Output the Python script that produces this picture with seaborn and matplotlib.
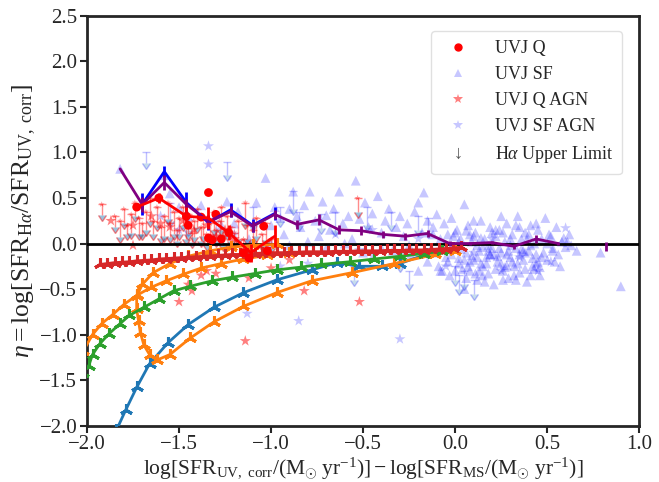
import numpy as np
import pandas as pd
import matplotlib
matplotlib.use("Agg")
import matplotlib.pyplot as plt
from matplotlib.lines import Line2D
import seaborn as sns

# ---------------- data ----------------
# UVJ SF (triangles)
sf_x = [-1.82,-1.58,-1.55,-1.50,-1.45,-1.38,-1.30,-1.27,-1.24,-1.20,-1.18,-1.12,-1.08,-1.03,-1.00,-0.98,-0.95,-0.93,-0.90,-0.88,
        -0.86,-0.84,-0.82,-0.79,-0.76,-0.74,-0.72,-0.70,-0.68,-0.66,-0.63,-0.61,-0.58,-0.56,-0.54,-0.52,-0.49,-0.47,-0.45,-0.42,
        -0.40,-0.38,-0.36,-0.34,-0.32,-0.30,-0.28,-0.26,-0.24,-0.22,-0.20,-0.18,-0.17,-0.15,-0.13,-0.12,-0.10,-0.09,-0.08,-0.06,
        -0.05,-0.04,-0.03,-0.02,0.00,0.01,0.02,0.03,0.05,0.05,0.06,0.07,0.08,0.09,0.10,0.11,0.12,0.13,0.14,0.15,
        0.16,0.17,0.18,0.19,0.20,0.21,0.22,0.23,0.24,0.25,0.26,0.27,0.28,0.29,0.30,0.31,0.32,0.33,0.34,0.35,
        0.36,0.37,0.38,0.39,0.40,0.41,0.42,0.43,0.44,0.45,0.46,0.47,0.49,0.50,0.52,0.53,0.55,0.57,0.58,0.60,
        0.62,0.63,0.66,0.79,0.90,-0.02,0.04,0.08,0.12,0.15,0.18,0.22,0.25,0.28,0.32,0.35,0.38,0.41,0.44,0.47,
        0.10,0.20,0.30,0.40,-0.06,0.02,0.06,0.16,0.26,0.34,0.24,0.14,-0.10,-0.15,-0.20,-0.25,-0.30,-0.40,-0.45,-0.50,
        -0.60,-0.70,-0.80,-0.90,-1.00,0.00,0.07,0.13,0.19,0.27,0.33,0.43,0.48,0.54,0.05,0.18,0.30,0.37,-0.08,0.11,
        -0.01,0.03,0.09,0.14,0.17,0.21,0.26,0.31,0.36,0.39,0.42,0.46,0.51,0.56,0.61,-0.04,0.06,0.12,0.23,0.29,
        0.35,0.41,0.45,0.50,0.02,0.08,0.15,0.22,0.28,0.33,-0.12,-0.07,0.00,0.10,0.19,0.25,0.38,0.44,0.53,0.59]
sf_y = [0.82,0.75,0.55,0.40,0.30,0.42,0.32,0.20,0.46,0.22,0.35,0.05,0.45,0.72,0.20,0.40,0.28,0.10,0.38,0.57,
        0.30,0.18,0.42,0.57,0.25,0.08,0.46,0.31,0.15,0.38,0.57,0.22,0.30,0.05,0.69,0.27,0.45,0.18,0.33,0.52,
        0.12,0.25,0.38,-0.08,0.18,0.30,0.08,0.22,-0.12,0.35,0.45,0.12,0.56,0.25,-0.05,0.18,0.32,-0.25,0.05,0.22,
        -0.15,0.10,-0.35,0.28,-0.05,0.15,-0.22,0.05,0.43,-0.50,-0.10,0.20,-0.30,0.02,-0.18,0.12,-0.40,-0.08,0.25,-0.25,
        0.05,-0.15,-0.33,0.18,-0.05,-0.45,0.08,-0.20,0.15,-0.10,-0.30,0.02,0.22,-0.38,-0.15,0.10,-0.25,-0.05,0.30,-0.32,
        0.05,-0.18,0.12,-0.42,-0.08,0.20,-0.25,0.00,-0.12,0.15,-0.35,0.05,0.28,-0.18,0.08,-0.05,0.18,-0.25,0.02,-0.04,
        0.10,-0.02,-0.08,-0.10,-0.47,-0.12,-0.28,-0.20,-0.15,-0.35,-0.02,-0.28,-0.22,-0.12,-0.35,-0.12,-0.28,-0.35,-0.22,-0.15,
        0.08,0.12,0.05,0.10,-0.02,0.02,-0.38,-0.42,-0.40,-0.22,-0.05,-0.22,-0.10,-0.20,-0.30,-0.02,-0.20,-0.05,-0.15,-0.10,
        0.00,-0.05,0.02,-0.02,0.00,-0.30,-0.25,-0.30,-0.12,-0.26,-0.40,-0.28,-0.10,-0.20,-0.18,-0.08,-0.02,-0.08,-0.30,-0.33,
        0.08,-0.06,-0.13,0.06,-0.22,-0.12,0.12,-0.20,-0.06,0.04,-0.16,-0.26,0.10,-0.12,0.02,-0.20,0.14,-0.02,-0.14,-0.08,
        0.18,-0.02,-0.20,0.00,-0.16,0.10,-0.04,0.15,-0.24,0.20,0.10,-0.30,0.12,0.25,-0.12,0.30,-0.10,0.22,-0.08,0.06]

# UVJ SF AGN (stars)
sfagn_x = [-1.34,-1.34,-0.85,-0.30,-1.13,-0.52,0.60,-0.95,-0.80,-0.45,-0.20,-0.05,0.10,0.20,0.35,0.45,-1.60,-1.50,-1.20,-0.65,0.25,0.52]
sfagn_y = [1.07,0.87,-0.85,-1.05,-0.77,-0.07,0.17,-0.25,-0.22,0.15,0.05,-0.25,-0.10,0.05,-0.15,-0.30,0.30,0.15,0.10,0.10,-0.30,-0.20]

# UVJ Q (circles)
q_x = [-1.73,-1.61,-1.34,-1.30,-1.46,-1.45,-1.34,-1.32,-1.27,-1.23,-1.15,-1.12,-1.04,-1.02,-1.38]
q_y = [0.40,0.50,0.56,0.32,0.30,0.20,0.06,0.04,0.05,0.12,-0.10,-0.16,0.19,-0.08,0.29]

# UVJ Q AGN (stars)
qagn_x = [-1.87,-1.75,-1.65,-1.60,-1.55,-1.48,-1.42,-1.35,-1.30,-1.25,-1.20,-1.45,-1.50,-1.43,-1.38,-1.35,-1.14,-0.52,-0.82,-1.00,-1.12,-1.75,-1.30,-0.90]
qagn_y = [0.25,0.20,0.30,0.22,0.18,0.25,0.15,0.20,0.08,0.15,0.05,-0.45,-0.64,-0.52,-0.35,-0.30,-1.07,-0.64,-0.52,-0.27,-0.38,-0.02,-0.33,-0.18]

# H-alpha upper limits (Q, red)
ulq_x = [-1.92,-1.85,-1.82,-1.80,-1.78,-1.76,-1.74,-1.72,-1.70,-1.68,-1.66,-1.64,-1.62,-1.60,-1.58,-1.56,-1.55,-1.53,-1.51,-1.50,
         -1.48,-1.46,-1.45,-1.43,-1.42,-1.40,-1.38,-1.37,-1.35,-1.33,-1.31,-1.30,-1.28,-1.26,-1.24,-1.22,-1.20,-1.18,-1.15,-1.13,
         -1.10,-1.08,-1.05,-1.03,-1.00,-1.27,-1.14,-0.53]
ulq_y = [0.43,0.30,0.25,0.38,0.20,0.32,0.45,0.28,0.22,0.35,0.50,0.25,0.40,0.18,0.30,0.45,0.22,0.35,0.15,0.28,
         0.40,0.20,0.32,0.12,0.25,0.38,0.18,0.30,0.10,0.22,0.35,0.15,0.25,0.08,0.30,0.18,0.12,0.25,0.05,0.20,
         0.15,0.28,0.10,0.22,0.05,0.40,0.45,0.50]
ulq_len = [0.12,0.12,0.18,0.15,0.10,0.20,0.15,0.18,0.12,0.20,0.25,0.15,0.20,0.12,0.22,0.18,0.15,0.25,0.12,0.18,
           0.20,0.15,0.22,0.10,0.18,0.20,0.15,0.22,0.12,0.18,0.20,0.12,0.18,0.10,0.20,0.15,0.12,0.20,0.10,0.15,
           0.12,0.20,0.12,0.18,0.10,0.25,0.22,0.15]

# H-alpha upper limits (SF, blue)
uls_x = [-0.88,-0.95,-0.73,-0.65,-0.35,0.00,0.02,-0.20,-0.48,-1.68,-1.24,-1.55,-1.45,-1.30,-1.10,-0.85,-0.30,-0.25,0.05,0.10,-0.55,-0.15]
uls_y = [0.58,0.40,0.32,0.35,0.35,-0.25,-0.35,0.30,0.40,1.00,0.90,0.45,0.30,0.25,0.40,0.35,-0.10,-0.30,-0.30,-0.40,-0.25,0.28]
uls_len = [0.20,0.15,0.15,0.20,0.15,0.15,0.15,0.15,0.20,0.12,0.15,0.20,0.15,0.15,0.20,0.15,0.15,0.15,0.15,0.15,0.15,0.15]

# medians
sfmed_x = [-1.70,-1.58,-1.46,-1.34,-1.22,-1.10,-0.98]
sfmed_y = [0.43,0.79,0.45,0.23,0.37,0.20,0.33]
sfmed_e = [0.12,0.06,0.12,0.08,0.08,0.07,0.07]

allmed_x = [-1.82,-1.70,-1.58,-1.46,-1.34,-1.22,-1.10,-0.98,-0.86,-0.74,-0.63,-0.51,-0.39,-0.27,-0.15,-0.03,0.08,0.20,0.32,0.44,0.56]
allmed_y = [0.82,0.43,0.67,0.43,0.24,0.35,0.19,0.32,0.21,0.26,0.15,0.14,0.10,0.08,0.11,0.00,0.00,0.01,-0.03,0.05,0.00]
allmed_e = [0.00,0.08,0.08,0.06,0.06,0.06,0.06,0.05,0.05,0.06,0.05,0.05,0.04,0.04,0.04,0.03,0.02,0.02,0.03,0.04,0.02]
last_x = [0.82]
last_y = [-0.03]
last_e = [0.05]

qmed_x = [-1.73,-1.61,-1.46,-1.34,-1.23,-1.11,-0.98]
qmed_y = [0.40,0.50,0.30,0.28,0.12,-0.10,0.08]
qmed_e = [0.00,0.06,0.10,0.12,0.08,0.10,0.12]

# model tracks
trkC0_x = [-1.84,-1.79,-1.73,-1.66,-1.56,-1.45,-1.31,-1.15,-0.97,-0.78,-0.64,-0.52,-0.40,-0.30,-0.16,-0.05]
trkC0_y = [-2.05,-1.83,-1.58,-1.32,-1.09,-0.89,-0.70,-0.54,-0.40,-0.29,-0.21,-0.25,-0.25,-0.22,-0.12,-0.07]

trkC1a_x = [-2.02,-1.97,-1.92,-1.86,-1.80,-1.73,-1.65,-1.57,-1.48,-1.38,-1.27,-1.15,-1.02,-0.90]
trkC1a_y = [-1.18,-1.00,-0.88,-0.78,-0.67,-0.57,-0.48,-0.41,-0.34,-0.27,-0.22,-0.17,-0.13,-0.10]

trkC1b_x = [-0.97,-1.10,-1.22,-1.33,-1.45,-1.55,-1.64,-1.70,-1.73,-1.73,-1.72,-1.71,-1.69,-1.66,-1.62,-1.55,-1.44,-1.31,-1.15,-0.97,-0.78,-0.56,-0.33,-0.11,0.00]
trkC1b_y = [-0.01,-0.02,-0.04,-0.08,-0.14,-0.22,-0.32,-0.45,-0.58,-0.72,-0.85,-0.98,-1.12,-1.22,-1.28,-1.22,-1.04,-0.86,-0.69,-0.54,-0.41,-0.32,-0.22,-0.12,-0.08]

trkC2_x = [-2.02,-1.99,-1.97,-1.93,-1.88,-1.82,-1.77,-1.69,-1.61,-1.53,-1.44,-1.32,-1.21,-1.09,-0.97,-0.84,-0.73,-0.57,-0.44,-0.30,-0.17,-0.07]
trkC2_y = [-1.42,-1.34,-1.22,-1.10,-0.99,-0.88,-0.79,-0.70,-0.61,-0.52,-0.47,-0.41,-0.37,-0.33,-0.29,-0.26,-0.23,-0.20,-0.17,-0.14,-0.11,-0.08]

trkC3_x = [-1.93,-1.89,-1.85,-1.81,-1.77,-1.73,-1.69,-1.65,-1.61,-1.57,-1.53,-1.49,-1.45,-1.41,-1.37,-1.33,-1.29,-1.25,-1.21,-1.17,
           -1.13,-1.09,-1.05,-1.01,-0.97,-0.93,-0.89,-0.85,-0.81,-0.77,-0.73,-0.69,-0.65,-0.61,-0.57,-0.53,-0.49,-0.45,-0.41,-0.37,
           -0.33,-0.29,-0.25,-0.21,-0.17,-0.13,-0.09,-0.05,-0.01,0.03]
trkC3_y = [-0.23,-0.22,-0.21,-0.205,-0.20,-0.19,-0.185,-0.18,-0.17,-0.165,-0.16,-0.155,-0.15,-0.145,-0.14,-0.135,-0.13,-0.125,-0.12,-0.12,
           -0.115,-0.11,-0.105,-0.10,-0.10,-0.10,-0.095,-0.095,-0.09,-0.09,-0.09,-0.09,-0.085,-0.085,-0.085,-0.08,-0.08,-0.08,-0.08,-0.075,
           -0.075,-0.075,-0.07,-0.07,-0.07,-0.065,-0.06,-0.055,-0.05,-0.04]

legend_labels = ["UVJ Q", "UVJ SF", "UVJ Q AGN", "UVJ SF AGN", r"H$\alpha$ Upper Limit"]

# ---------------- style ----------------
sns.set_style("ticks")
plt.rcParams["font.family"] = ["Liberation Serif", "DejaVu Serif"]
plt.rcParams["mathtext.fontset"] = "custom"
plt.rcParams["mathtext.rm"] = "Liberation Serif"
plt.rcParams["mathtext.it"] = "Liberation Serif:italic"
plt.rcParams["mathtext.bf"] = "Liberation Serif:bold"
plt.rcParams["mathtext.fallback"] = "cm"
plt.rcParams["axes.linewidth"] = 2.0
plt.rcParams["xtick.major.width"] = 1.5
plt.rcParams["ytick.major.width"] = 1.5
plt.rcParams["xtick.major.size"] = 5
plt.rcParams["ytick.major.size"] = 5

fig = plt.figure(figsize=(6.59, 4.82), dpi=100)
ax = fig.add_axes([0.132, 0.117, 0.838, 0.850])

# scatter clouds
sns.scatterplot(x=sf_x, y=sf_y, marker="^", color="blue", alpha=0.22, s=50, edgecolor="none", ax=ax, zorder=2)
sns.scatterplot(x=sfagn_x, y=sfagn_y, marker="*", color="blue", alpha=0.22, s=70, edgecolor="none", ax=ax, zorder=2)

# upper limits
ax.errorbar(uls_x, uls_y, yerr=[uls_len, [0]*len(uls_len)], fmt="none", ecolor="blue", alpha=0.25,
            elinewidth=1, uplims=True, capsize=3, zorder=2)
ax.errorbar(ulq_x, ulq_y, yerr=[ulq_len, [0]*len(ulq_len)], fmt="none", ecolor="red", alpha=0.45,
            elinewidth=1, uplims=True, capsize=3, zorder=2)
sns.scatterplot(x=ulq_x, y=ulq_y, marker="*", color="red", alpha=0.4, s=20, edgecolor="none", ax=ax, zorder=2)
sns.scatterplot(x=qagn_x, y=qagn_y, marker="*", color="red", alpha=0.5, s=70, edgecolor="none", ax=ax, zorder=2)

# horizontal zero line
ax.axhline(0, color="black", lw=2, zorder=3)

# model tracks
mk = dict(marker=(3, 2, 0), markersize=9, markeredgewidth=2.2)
ax.plot(trkC0_x, trkC0_y, color="C0", lw=2, zorder=4, **mk)
ax.plot(trkC1a_x, trkC1a_y, color="C1", lw=2, zorder=4, **mk)
ax.plot(trkC1b_x, trkC1b_y, color="C1", lw=2, zorder=4, **mk)
ax.plot(trkC2_x, trkC2_y, color="C2", lw=2, zorder=4, **mk)
ax.plot(trkC3_x, trkC3_y, color="C3", lw=2, zorder=4, **mk)

# red Q points
sns.scatterplot(x=q_x, y=q_y, marker="o", color="red", s=40, edgecolor="none", ax=ax, zorder=6)

# medians
ax.errorbar(sfmed_x, sfmed_y, yerr=sfmed_e, color="blue", lw=2, elinewidth=2, zorder=6)
ax.errorbar(allmed_x, allmed_y, yerr=allmed_e, color="purple", lw=2, elinewidth=2, zorder=7)
ax.errorbar(last_x, last_y, yerr=last_e, color="purple", lw=2, elinewidth=2, fmt="none", zorder=7)
ax.errorbar(qmed_x, qmed_y, yerr=qmed_e, color="red", lw=2, elinewidth=2, zorder=7)

ax.set_xlim(-2.0, 1.0)
ax.set_ylim(-2.0, 2.5)
ax.set_xticks([-2.0, -1.5, -1.0, -0.5, 0.0, 0.5, 1.0])
ax.set_yticks([-2.0, -1.5, -1.0, -0.5, 0.0, 0.5, 1.0, 1.5, 2.0, 2.5])
ax.tick_params(labelsize=15, pad=2)
ax.set_xticklabels([f"{v:.1f}".replace("-", "\u2212") for v in ax.get_xticks()])
ax.set_yticklabels([f"{v:.1f}".replace("-", "\u2212") for v in ax.get_yticks()])

ax.set_xlabel(r"$\log[\mathrm{SFR}_{\mathrm{UV,\ corr}}/(\mathrm{M}_{\odot}\ \mathrm{yr}^{-1})] - \log[\mathrm{SFR}_{\mathrm{MS}}/(\mathrm{M}_{\odot}\ \mathrm{yr}^{-1})]$",
              fontsize=15.5, labelpad=1)
ax.set_ylabel(r"$\eta = \log[\mathrm{SFR}_{\mathrm{H}\alpha}/\mathrm{SFR}_{\mathrm{UV,\ corr}}]$", fontsize=18.5, labelpad=1)

handles = [
    Line2D([], [], ls="none", marker="o", color="red", markersize=5),
    Line2D([], [], ls="none", marker="^", color="blue", alpha=0.22, markersize=6, markeredgewidth=0),
    Line2D([], [], ls="none", marker="*", color="red", alpha=0.5, markersize=7, markeredgewidth=0),
    Line2D([], [], ls="none", marker="*", color="blue", alpha=0.22, markersize=7, markeredgewidth=0),
    Line2D([], [], ls="none", marker=r"$\downarrow$", color="0.35", markersize=8, markeredgewidth=0),
]
leg = ax.legend(handles, legend_labels, loc="upper right", fontsize=13, frameon=True,
                borderpad=0.5, labelspacing=0.5, handletextpad=1.0, bbox_to_anchor=(0.985, 0.985))
leg.get_frame().set_edgecolor("0.85")

fig.savefig("out.png", dpi=100)
